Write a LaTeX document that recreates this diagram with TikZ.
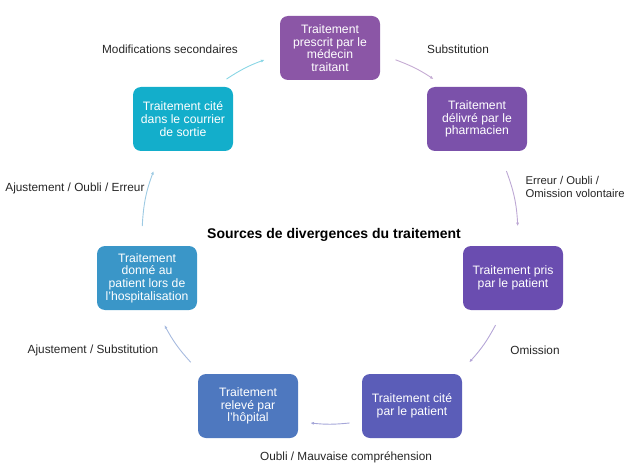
\documentclass[tikz,border=0pt]{standalone}
\usepackage{fontspec}
\setmainfont{Liberation Sans}
\usetikzlibrary{arrows.meta}
\definecolor{presc}{HTML}{8B56A6}
\definecolor{pharm}{HTML}{7B51AA}
\definecolor{pris}{HTML}{6A4DB0}
\definecolor{citepat}{HTML}{5B5DB8}
\definecolor{releve}{HTML}{4E78BF}
\definecolor{donne}{HTML}{3A96C8}
\definecolor{courrier}{HTML}{13AECB}

\begin{document}
\begin{tikzpicture}[x=1pt,y=1pt,
 b/.style={rounded corners=8pt,align=center,minimum width=100pt,minimum height=64pt,
 inner sep=2pt,text=white,font=\fontsize{12.2}{12.6}\selectfont},
 l/.style={font=\fontsize{11.8}{13}\selectfont,text=black!85},
 a/.style={-{Latex[length=3.5pt,width=3pt]},line width=0.9pt}]
\clip (0,0) rectangle (628,464);
\node[b,fill=presc] (presc) at (330,416) {Traitement\\prescrit par le\\médecin\\traitant};
\node[b,fill=pharm] (pharm) at (477,345) {Traitement\\délivré par le\\pharmacien};
\node[b,fill=pris] (pris) at (513,186) {Traitement pris\\par le patient};
\node[b,fill=citepat] (citepat) at (412,58) {Traitement cité\\par le patient};
\node[b,fill=releve] (releve) at (248,58) {Traitement\\relevé par\\l'hôpital};
\node[b,fill=donne] (donne) at (147,186) {Traitement\\donné au\\patient lors de\\l'hospitalisation};
\node[b,fill=courrier] (courrier) at (183,345) {Traitement cité\\dans le courrier\\de sortie};
\node[font=\bfseries\fontsize{14}{16}\selectfont] (titre) at (334,229) {Sources de divergences du traitement};
% arc ends on the cycle
\coordinate (o) at (330,228);
\coordinate (s1) at ([shift={(69.6:188)}]o); \coordinate (e1) at ([shift={(56.6:188)}]o);
\coordinate (s2) at ([shift={(20.2:188)}]o); \coordinate (e2) at ([shift={(3:188)}]o);
\coordinate (s3) at ([shift={(-28.3:188)}]o); \coordinate (e3) at ([shift={(-42.2:188)}]o);
\coordinate (s4) at ([shift={(-84:188)}]o); \coordinate (e4) at ([shift={(-96:188)}]o);
\coordinate (s5) at ([shift={(-137.8:188)}]o); \coordinate (e5) at ([shift={(-151.7:188)}]o);
\coordinate (s6) at ([shift={(177:188)}]o); \coordinate (e6) at ([shift={(159.8:188)}]o);
\coordinate (s7) at ([shift={(123.4:188)}]o); \coordinate (e7) at ([shift={(110.4:188)}]o);
\draw[a,presc!50] (s1) to[bend left=6.5] (e1);
\draw[a,pharm!50] (s2) to[bend left=8.6] (e2);
\draw[a,pris!50] (s3) to[bend left=7] (e3);
\draw[a,citepat!55] (s4) to[bend left=6] (e4);
\draw[a,releve!50] (s5) to[bend left=7] (e5);
\draw[a,donne!50] (s6) to[bend left=8.6] (e6);
\draw[a,courrier!50] (s7) to[bend left=6.5] (e7);
\node[l] (lmod) at (170,415) {Modifications secondaires};
\node[l] (lsub) at (458,415) {Substitution};
\node[l,font=\fontsize{11.3}{13}\selectfont,align=left,anchor=west] (lerr) at (522,277) {Erreur / Oubli /\\Omission volontaire};
\node[l] (lomi) at (535,114) {Omission};
\node[l] (loub) at (346,7) {Oubli / Mauvaise compréhension};
\node[l] (lajs) at (93,114) {Ajustement / Substitution};
\node[l,anchor=east] (lajo) at (148,276) {Ajustement / Oubli / Erreur};
\end{tikzpicture}
\end{document}
